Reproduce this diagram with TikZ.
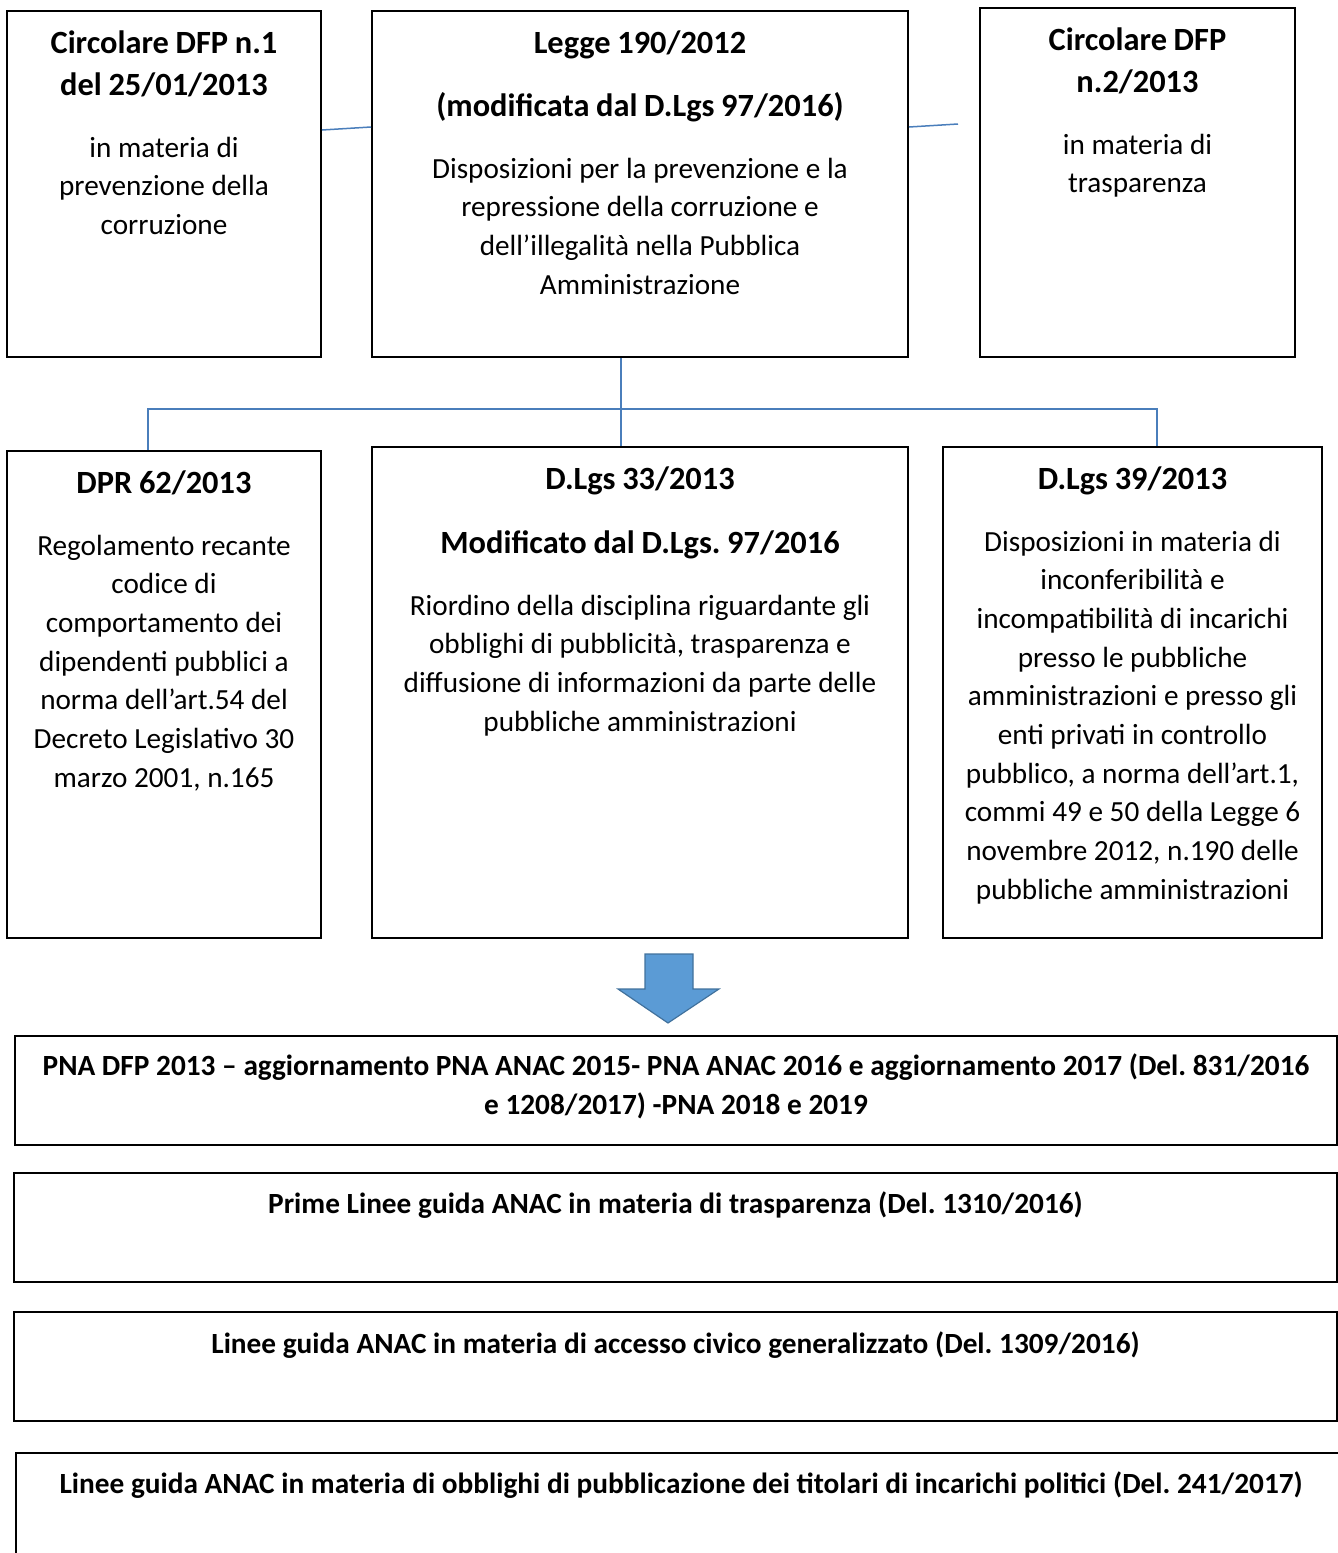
\documentclass[tikz,border=0pt]{standalone}
\usepackage{fontspec}
\setmainfont{Carlito}
\usetikzlibrary{positioning}
\definecolor{lineblue}{HTML}{4A7EBB}
\definecolor{arrowfill}{HTML}{5B9BD5}
\definecolor{arrowedge}{HTML}{41719C}
\newcommand{\boxhead}{\fontsize{16.2}{21}\bfseries\selectfont}
\newcommand{\boxbody}{\fontsize{14.6}{19.35}\mdseries\selectfont}
\newcommand{\boxfoot}{\fontsize{14.65}{19.5}\bfseries\selectfont}
\frenchspacing

\begin{document}
\begin{tikzpicture}[x=0.5pt, y=-0.5pt,
	box/.style={draw, line width=1pt, inner sep=0pt},
	txt/.style={anchor=base, align=center, inner sep=0pt},
	conn/.style={draw=lineblue, line width=0.75pt}]
		\clip (0,0) rectangle (1338,1553);
		% boxes
		\draw (164,184) node[box, minimum width=157pt, minimum height=173pt] (circ1) {}
		(640,184) node[box, minimum width=268pt, minimum height=173pt] (legge) {}
		(1137.5,182.5) node[box, minimum width=157.5pt, minimum height=174.5pt] (circ2) {}
		(164,694.5) node[box, minimum width=157pt, minimum height=243.5pt] (dpr) {}
		(640,692.5) node[box, minimum width=268pt, minimum height=245.5pt] (dlgs33) {}
		(1132.5,692.5) node[box, minimum width=189.5pt, minimum height=245.5pt] (dlgs39) {}
		(676,1090.5) node[box, minimum width=661pt, minimum height=54.5pt] (pna) {}
		(675.5,1227.5) node[box, minimum width=661.5pt, minimum height=54.5pt] (lgtrasp) {}
		(675.5,1366.5) node[box, minimum width=661.5pt, minimum height=54.5pt] (lgaccesso) {}
		(681,1507.5) node[box, minimum width=665pt, minimum height=54.5pt] (lgpolitici) {};
		
		% texts
		\draw (164,53) node[txt, text width=154pt] (circ1t) {\boxhead Circolare DFP n.1\\del 25/01/2013\\[11.65pt]
			\boxbody in materia di\\prevenzione della\\corruzione\par}
		(640,53) node[txt, text width=264pt] (legget) {\boxhead Legge 190/2012\\[10.5pt](modificata dal D.Lgs 97/2016)\\[11.65pt]
			\boxbody Disposizioni per la prevenzione e la\\repressione della corruzione e\\dell’illegalità nella Pubblica\\Amministrazione\par}
		(1137.5,50) node[txt, text width=154pt] (circ2t) {\boxhead Circolare DFP\\n.2/2013\\[11.65pt]
			\boxbody in materia di\\trasparenza\par}
		(164,493) node[txt, text width=154pt] (dprt) {\boxhead DPR 62/2013\\[11.65pt]
			\boxbody Regolamento recante\\codice di\\comportamento dei\\dipendenti pubblici a\\norma dell’art.54 del\\Decreto Legislativo 30\\marzo 2001, n.165\par}
		(640,489) node[txt, text width=264pt] (dlgs33t) {\boxhead D.Lgs 33/2013\\[11pt]Modificato dal D.Lgs. 97/2016\\[11.65pt]
			\boxbody Riordino della disciplina riguardante gli\\obblighi di pubblicità, trasparenza e\\diffusione di informazioni da parte delle\\pubbliche amministrazioni\par}
		(1132.5,489) node[txt, text width=187pt] (dlgs39t) {\boxhead D.Lgs 39/2013\\[11.65pt]
			\boxbody Disposizioni in materia di\\inconferibilità e\\incompatibilità di incarichi\\presso le pubbliche\\amministrazioni e presso gli\\enti privati in controllo\\pubblico, a norma dell’art.1,\\commi 49 e 50 della Legge 6\\novembre 2012, n.190 delle\\pubbliche amministrazioni\par}
		(676,1075) node[txt, text width=658pt] (pnat) {\boxfoot PNA DFP 2013 – aggiornamento PNA ANAC 2015- PNA ANAC 2016 e aggiornamento 2017 (Del. 831/2016\\e 1208/2017) -PNA 2018 e 2019\par}
		(675.5,1213) node[txt, text width=658pt] (lgtraspt) {\boxfoot Prime Linee guida ANAC in materia di trasparenza (Del. 1310/2016)\par}
		(675.5,1353) node[txt, text width=658pt] (lgaccessot) {\boxfoot Linee guida ANAC in materia di accesso civico generalizzato (Del. 1309/2016)\par}
		(681,1493) node[txt, text width=662pt] (lgpoliticit) {\boxfoot Linee guida ANAC in materia di obblighi di pubblicazione dei titolari di incarichi politici (Del. 241/2017)\par};
		
		% connectors
		\coordinate (c2end) at (958,124);
		\coordinate (hub) at (621,409);
		\coordinate (busl) at (148,409);
		\coordinate (busr) at (1157,409);
		\draw[conn] ([yshift=27pt]circ1.east) -- ([yshift=28.5pt]legge.west);
		\draw[conn] ([yshift=28.5pt]legge.east) -- (c2end);
		\draw[conn] (hub |- legge.south) -- (hub |- dlgs33.north);
		\draw[conn] (busl |- dpr.north) -- (busl) -- (busr) -- (busr |- dlgs39.north);
		
		% block arrow
		\filldraw[fill=arrowfill, draw=arrowedge, line width=0.6pt] (645,954) -- (693,954) -- (693,989) -- (719,989) -- (668,1023) -- (618,989) -- (645,989) -- cycle;
	\end{tikzpicture}
\end{document}
